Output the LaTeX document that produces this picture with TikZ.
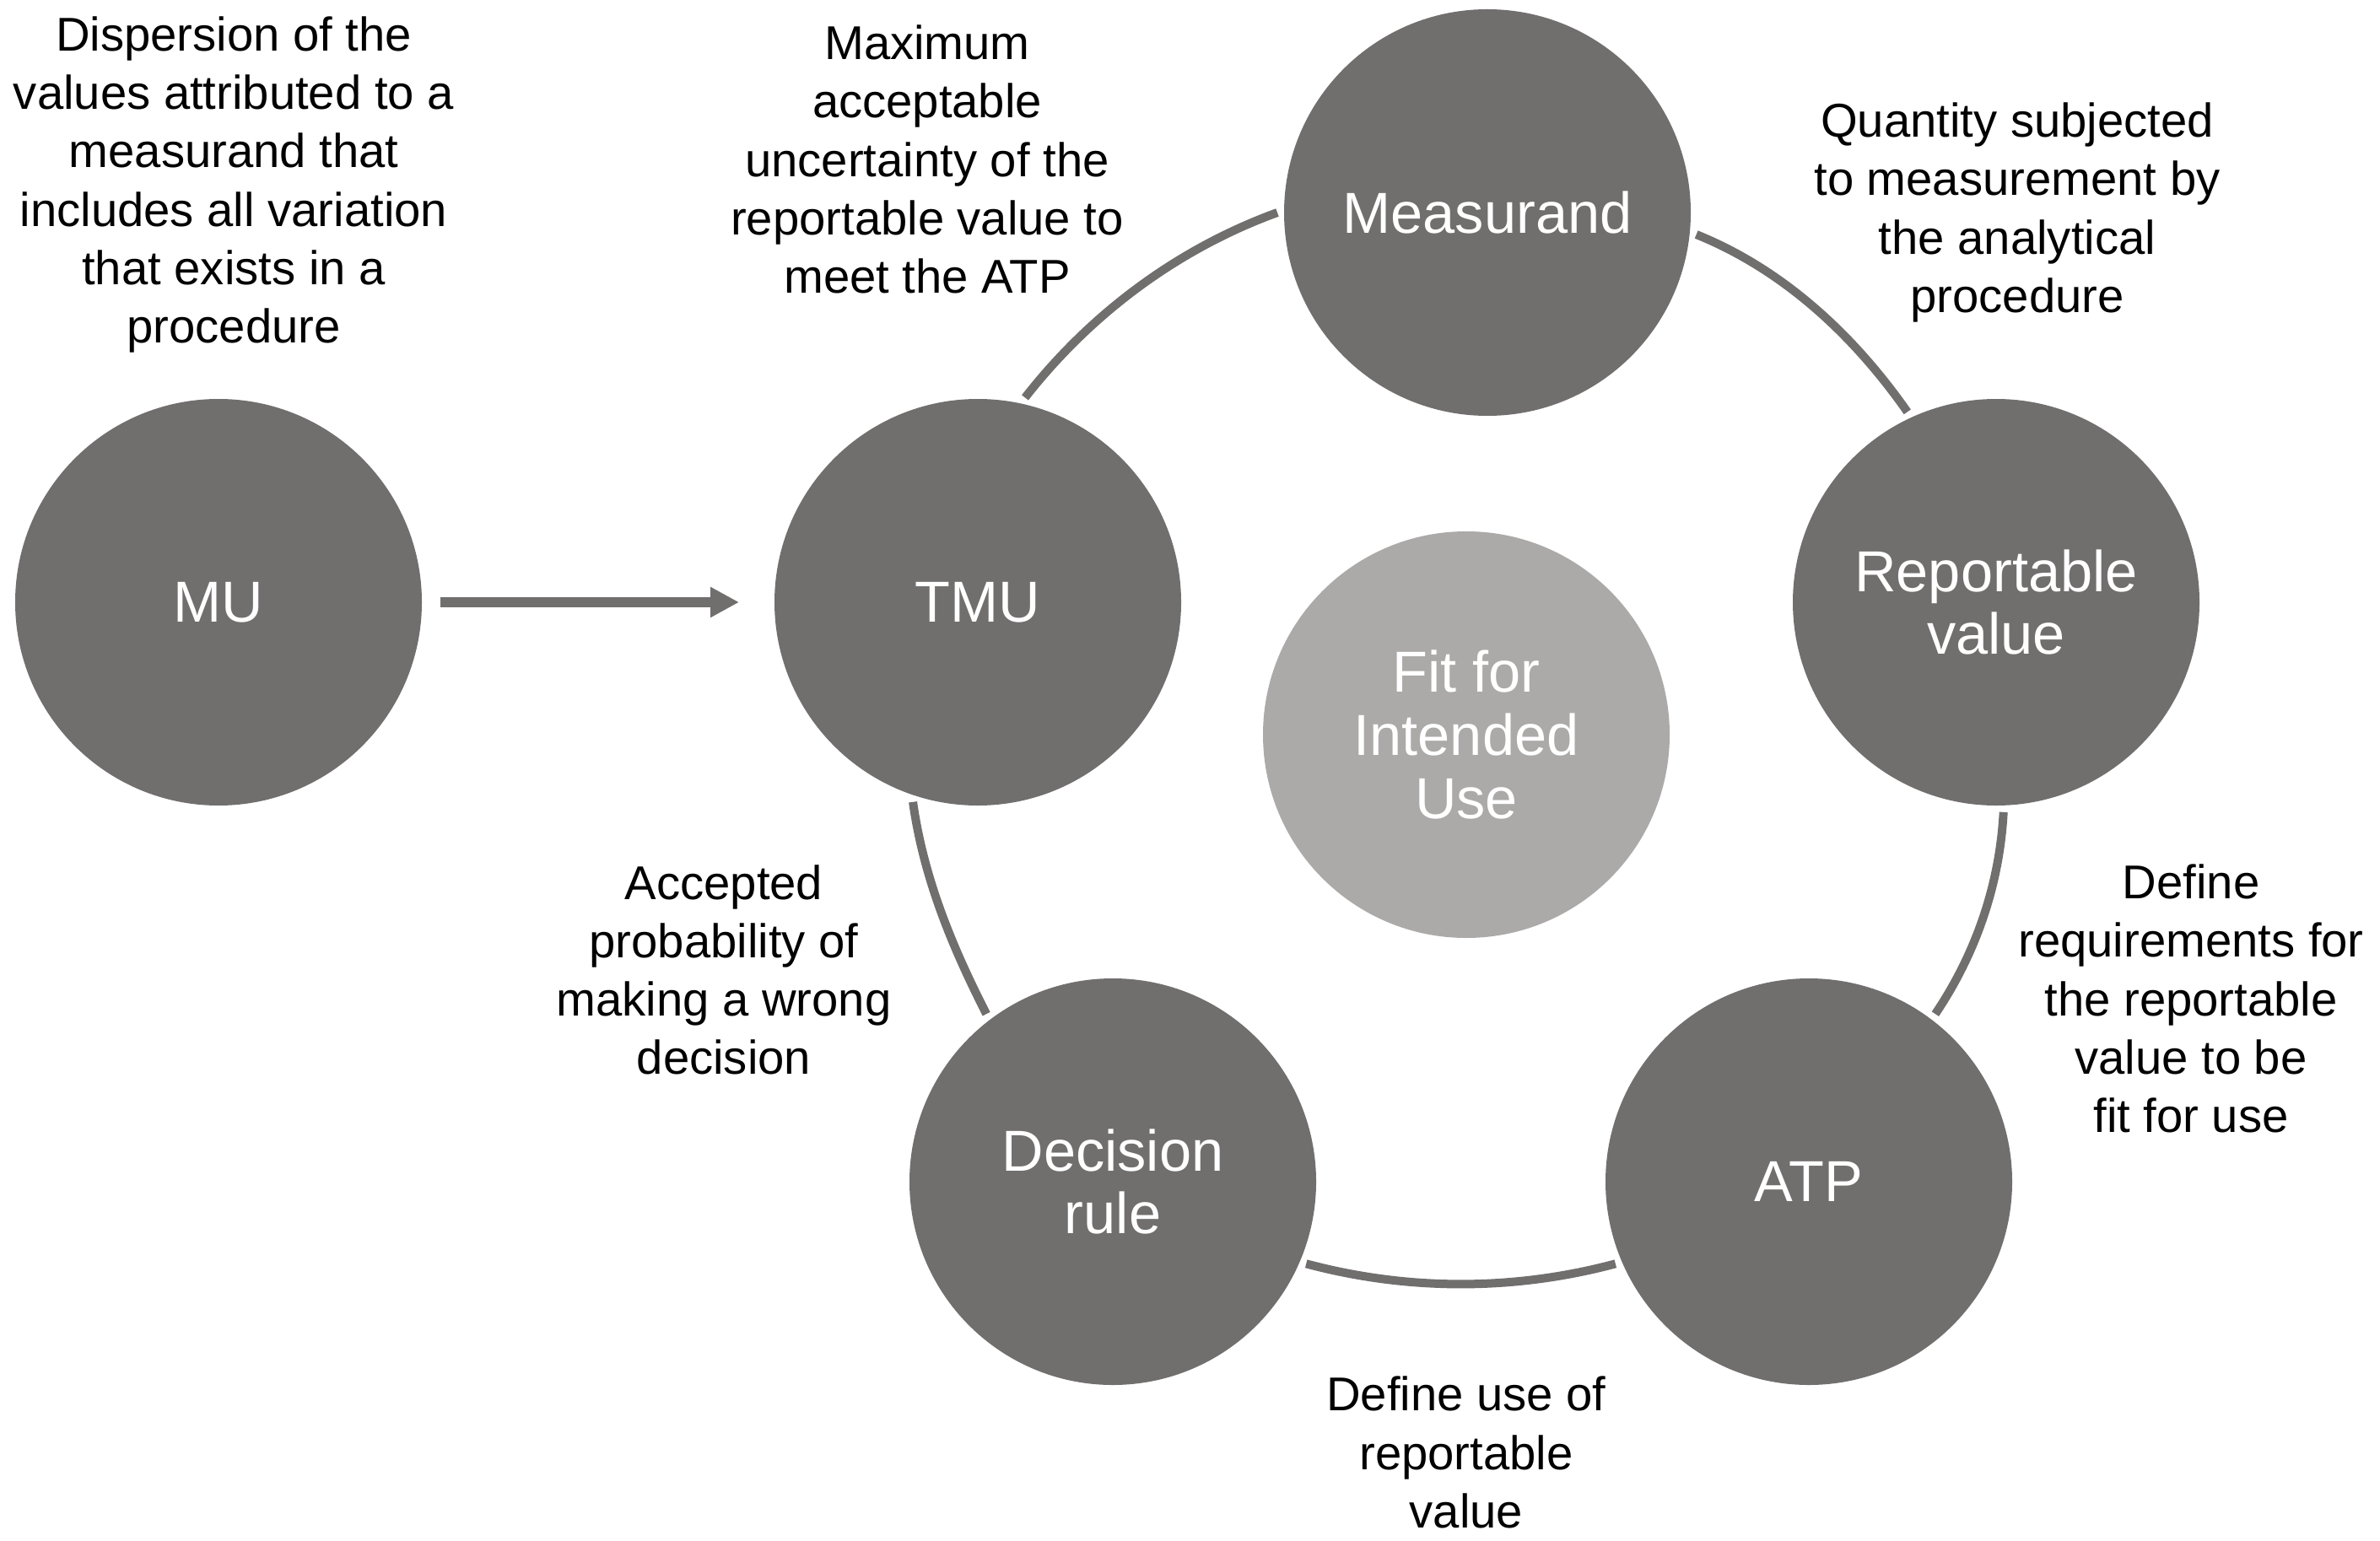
\documentclass[tikz,border=0pt]{standalone}
\usepackage{fontspec}
\setmainfont{Liberation Sans}
\usetikzlibrary{arrows.meta}
\definecolor{disc}{RGB}{113,110,110}
\definecolor{disc light}{RGB}{172,169,169}
\tikzset{every picture/.style={>={Triangle[length=3.4mm,width=3.4mm]}}}
\tikzset{big disc/.style={circle,fill=disc,text=white,minimum size=4.82cm,inner sep=0pt,outer sep=0.8mm,align=center,font=\fontsize{19.5}{21.2}\selectfont}}
\tikzset{ring line/.style={draw=disc,line width=1mm,looseness=0.87}}
\tikzset{note/.style={align=center,font=\fontsize{16}{19.7}\selectfont}}

\begin{document}
\begin{tikzpicture}
      \path[use as bounding box] (0,0) rectangle (28.21,18.26);
      \node[big disc] (mu) at (2.59,11.12) {MU};
      \node[big disc] (tmu) at (11.59,11.12) {TMU};
      \node[big disc] (meas) at (17.63,15.74) {Measurand};
      \node[big disc] (rep) at (23.66,11.12) {Reportable\\value};
      \node[big disc] (atp) at (21.44,4.25) {ATP};
      \node[big disc] (dec) at (13.19,4.25) {Decision\\rule};
      \node[big disc,fill=disc light] (fit) at (17.38,9.55) {Fit for\\Intended\\Use};
      \draw[->,draw=disc,line width=1.2mm,shorten <=1.4mm,shorten >=3.4mm] (mu) -- (tmu);
      \draw[ring line] (tmu.77) to[out=52,in=200] (meas.180);
      \draw[ring line] (meas.-6) to[out=-22,in=125] (rep.115);
      \draw[ring line] (rep.-88) to[out=-93,in=56] (atp.53);
      \draw[ring line] (atp.203) to[out=195,in=-15] (dec.-23);
      \draw[ring line] (dec.127) to[out=117,in=-82] (tmu.252);
      \node[note] (mu text) at (2.77,16.07) {Dispersion of the\\values attributed to a\\measurand that\\includes all variation\\that exists in a\\procedure};
      \node[note] (tmu text) at (10.99,16.37) {Maximum\\acceptable\\uncertainty of the\\reportable value to\\meet the ATP};
      \node[note] (meas text) at (23.91,15.74) {Quantity subjected\\to measurement by\\the analytical\\procedure};
      \node[note] (atp text) at (25.97,6.42) {Define\\requirements for\\the reportable\\value to be\\fit for use};
      \node[note] (dec text) at (8.58,6.76) {Accepted\\probability of\\making a wrong\\decision};
      \node[note] (use text) at (17.38,1.04) {Define use of\\reportable\\value};
    \end{tikzpicture}
\end{document}
